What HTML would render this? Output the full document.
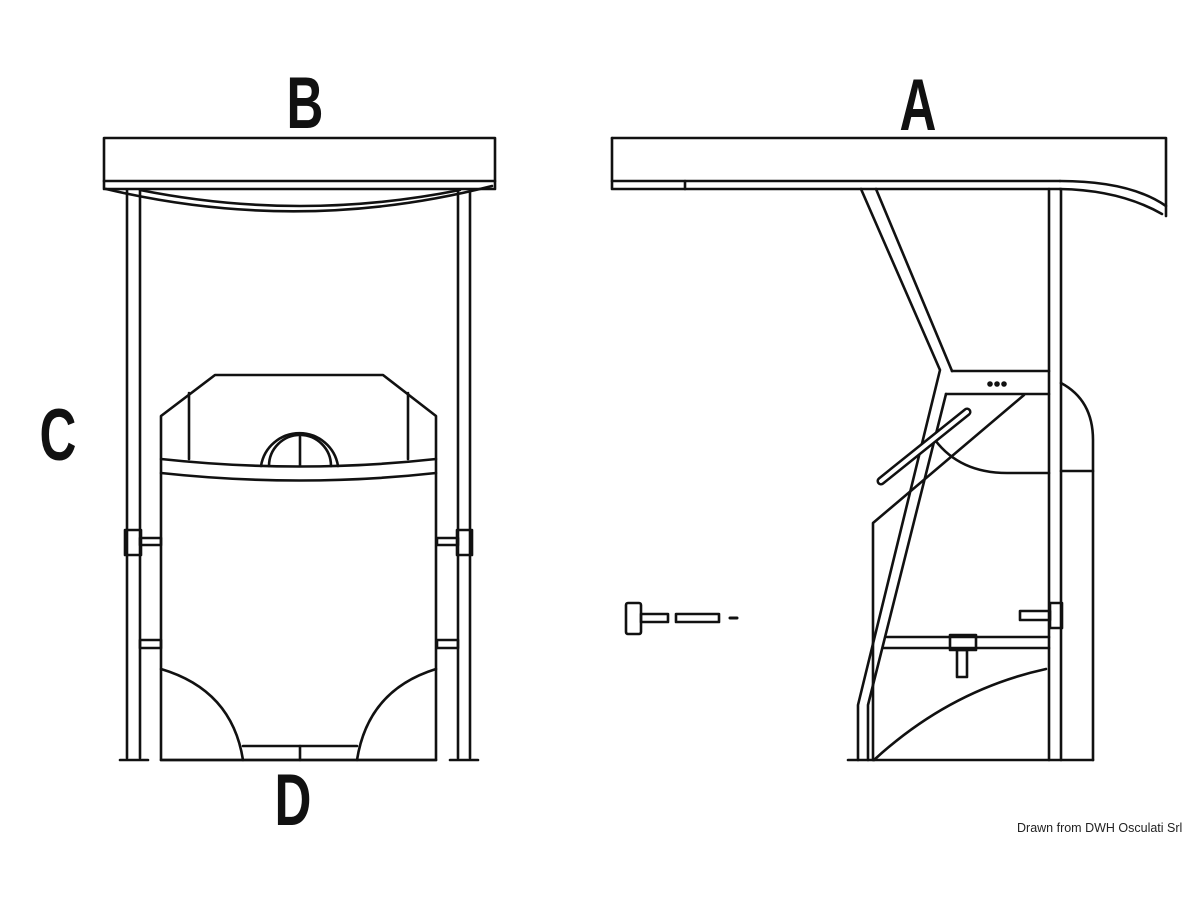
<!DOCTYPE html>
<html><head><meta charset="utf-8"><style>
html,body{margin:0;padding:0;background:#fff;width:1200px;height:900px;overflow:hidden}
svg{display:block}
</style></head><body>
<svg width="1200" height="900" viewBox="0 0 1200 900" xmlns="http://www.w3.org/2000/svg">
<g fill="none" stroke="#111" stroke-width="2.6" stroke-linejoin="round" stroke-linecap="round">
<!-- LEFT VIEW -->
<rect x="104" y="138" width="391" height="51"/>
<line x1="104" y1="181" x2="495" y2="181"/>
<path d="M106 189 Q300 235 492 186"/>
<path d="M140 190 Q300 222 460 190"/>
<line x1="127" y1="190" x2="127" y2="758"/><line x1="140" y1="190" x2="140" y2="758"/>
<line x1="458" y1="190" x2="458" y2="758"/><line x1="470" y1="190" x2="470" y2="758"/>
<line x1="120" y1="760" x2="148" y2="760"/><line x1="450" y1="760" x2="478" y2="760"/>
<rect x="125" y="530" width="16" height="25"/><rect x="457" y="530" width="15" height="25"/>
<rect x="140" y="538" width="21" height="7"/><rect x="437" y="538" width="21" height="7"/>
<rect x="140" y="640" width="21" height="8"/><rect x="437" y="640" width="21" height="8"/>
<path d="M161 760 L161 416 L215 375 L383 375 L436 416 L436 760 Z"/>
<line x1="189" y1="393" x2="189" y2="459"/><line x1="408" y1="393" x2="408" y2="459"/>
<path d="M161 459 Q300 474 436 459"/>
<path d="M161 473 Q300 488 436 473"/>
<path d="M261 466 A39 39 0 0 1 338 466"/>
<path d="M269 466 A31 31 0 0 1 331 466"/>
<line x1="300" y1="437" x2="300" y2="466"/>
<path d="M161 669 Q232 690 243 760"/>
<path d="M436 669 Q368 690 357 760"/>
<path d="M243 746 L357 746"/><line x1="300" y1="746" x2="300" y2="760"/>
<line x1="161" y1="760" x2="436" y2="760"/>
<!-- RIGHT VIEW -->
<path d="M612 138 L1166 138 L1166 216"/>
<path d="M612 138 L612 189 L1060 189"/>
<line x1="612" y1="181" x2="1060" y2="181"/>
<path d="M1060 181 Q1130 181 1166 206"/>
<path d="M1060 189 Q1120 190 1162 214"/>
<line x1="685" y1="181" x2="685" y2="189"/>
<!-- strut -->
<path d="M861 189 L940 370 L858 705 L858 760"/>
<path d="M876 189 L952 371"/>
<path d="M946 394 L868 705 L868 760"/>
<!-- post -->
<line x1="1049" y1="189" x2="1049" y2="760"/><line x1="1061" y1="189" x2="1061" y2="760"/>
<line x1="952" y1="371" x2="1049" y2="371"/><line x1="946" y1="394" x2="1049" y2="394"/>
<line x1="887" y1="637" x2="1049" y2="637"/><line x1="884" y1="648" x2="1049" y2="648"/>
<rect x="950" y="635" width="26" height="15"/><rect x="957" y="650" width="10" height="27"/>
<rect x="1050" y="603" width="12" height="25"/><rect x="1020" y="611" width="30" height="9"/>
<!-- console behind -->
<path d="M1061 383 Q1093 400 1093 440 L1093 760"/>
<line x1="1061" y1="471" x2="1093" y2="471"/>
<path d="M935 440 Q960 473 1007 473 L1049 473"/>
<path d="M1024 395 L873 523 L873 760"/>
<path d="M874 760 Q950 690 1046 669"/>
<line x1="848" y1="760" x2="1093" y2="760"/>
<line x1="881" y1="481" x2="967" y2="412" stroke-width="9"/>
<line x1="881" y1="481" x2="967" y2="412" stroke="#fff" stroke-width="4"/>
<!-- small parts -->
<rect x="626" y="603" width="15" height="31" rx="2"/>
<rect x="641" y="614" width="27" height="8"/>
<rect x="676" y="614" width="43" height="8"/>
<line x1="730" y1="618" x2="737" y2="618" stroke-width="3"/>
<circle cx="990" cy="384" r="1.5" fill="#111"/><circle cx="997" cy="384" r="1.5" fill="#111"/><circle cx="1004" cy="384" r="1.5" fill="#111"/>
</g>
<g font-family="Liberation Sans, sans-serif" fill="#111" font-size="73" font-weight="bold">
<text x="0" y="0" transform="translate(305,128) scale(0.7,1)" text-anchor="middle">B</text>
<text x="0" y="0" transform="translate(918,130) scale(0.7,1)" text-anchor="middle">A</text>
<text x="0" y="0" transform="translate(58,460) scale(0.7,1)" text-anchor="middle">C</text>
<text x="0" y="0" transform="translate(293,825) scale(0.7,1)" text-anchor="middle">D</text>
</g>
<text x="1017" y="832" font-family="Liberation Sans, sans-serif" font-size="12.5" fill="#222">Drawn from DWH Osculati Srl</text>
</svg>
</body></html>
